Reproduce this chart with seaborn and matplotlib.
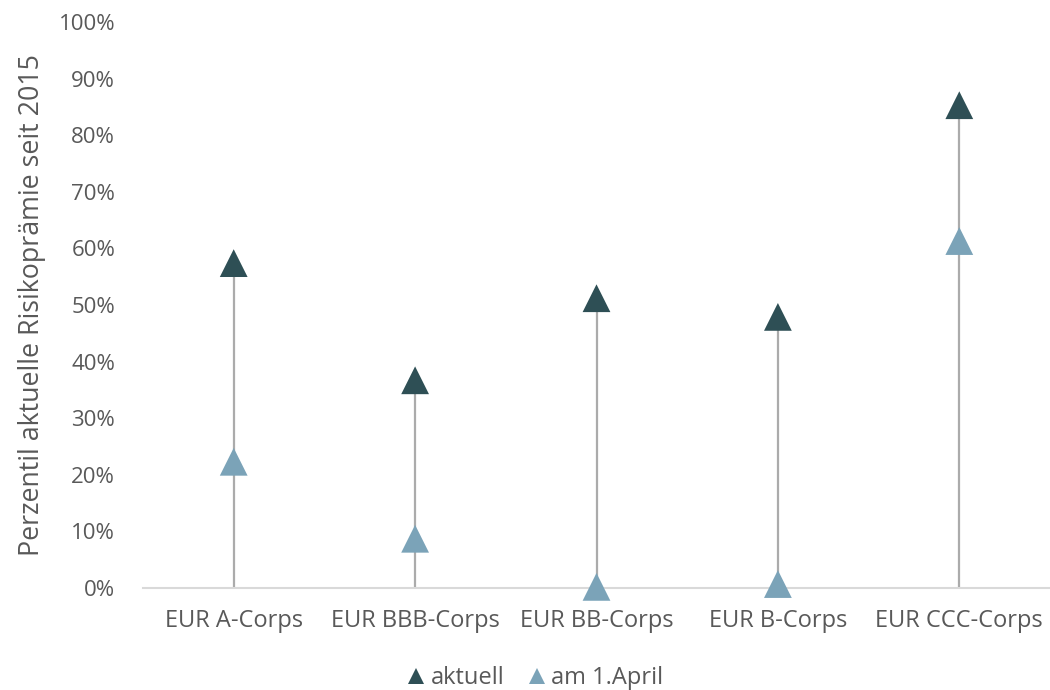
import matplotlib
matplotlib.use("Agg")
import matplotlib.pyplot as plt
from matplotlib.ticker import PercentFormatter
from matplotlib.lines import Line2D
import seaborn as sns
import pandas as pd

categories = ["EUR A-Corps", "EUR BBB-Corps", "EUR BB-Corps", "EUR B-Corps", "EUR CCC-Corps"]
aktuell = [0.574, 0.367, 0.512, 0.479, 0.853]
am_1_april = [0.223, 0.087, 0.002, 0.007, 0.613]
series_names = ["aktuell", "am 1.April"]
y_ticks = [i / 10 for i in range(11)]

dark = "#2e4f55"
light = "#7ba3b8"
text_gray = "#595959"

sns.set_theme(style="white")
plt.rcParams["font.family"] = ["Open Sans", "DejaVu Sans"]

df = pd.DataFrame({
    "Kategorie": categories * 2,
    "Wert": aktuell + am_1_april,
    "Reihe": [series_names[0]] * len(categories) + [series_names[1]] * len(categories),
})
df["x"] = df["Kategorie"].map({c: i for i, c in enumerate(categories)})

fig = plt.figure(figsize=(10.5, 6.9), dpi=100)
ax = fig.add_axes([143 / 1050, 1 - 588 / 690, 1 - 143 / 1050, (588 - 22) / 690])

# drop lines from the baseline to the current value
ax.vlines(range(len(categories)), 0, aktuell, color="#ababab", linewidth=1.6, zorder=1)

sns.scatterplot(data=df, x="x", y="Wert", hue="Reihe", hue_order=series_names,
                palette=[dark, light], marker="^", s=400, linewidth=0,
                ax=ax, legend=False, zorder=3, clip_on=False)

ax.set_xlim(-0.5, len(categories) - 0.5)
ax.set_ylim(0, 1)
ax.set_xticks(range(len(categories)))
ax.set_xticklabels(categories, fontsize=17)
ax.set_yticks(y_ticks)
ax.yaxis.set_major_formatter(PercentFormatter(1.0, decimals=0))
ax.set_xlabel("")
ax.set_ylabel("Perzentil aktuelle Risikoprämie seit 2015", fontsize=19.3, color=text_gray, labelpad=9)

for side in ["top", "right", "left"]:
    ax.spines[side].set_visible(False)
ax.spines["bottom"].set_color("#d9d9d9")
ax.spines["bottom"].set_linewidth(1.5)
ax.tick_params(axis="both", length=0, colors=text_gray)
ax.tick_params(axis="y", labelsize=16, pad=20)
ax.tick_params(axis="x", pad=15)

handles = [Line2D([], [], marker="^", linestyle="none", markersize=11,
                  markerfacecolor=c, markeredgewidth=0) for c in (dark, light)]
fig.legend(handles, series_names, loc="center", bbox_to_anchor=(534 / 1050, 1 - 678 / 690),
           ncol=2, frameon=False, fontsize=17, labelcolor=text_gray,
           handletextpad=0.1, columnspacing=0.9, handlelength=1.0)

fig.savefig("out.png", dpi=100)
